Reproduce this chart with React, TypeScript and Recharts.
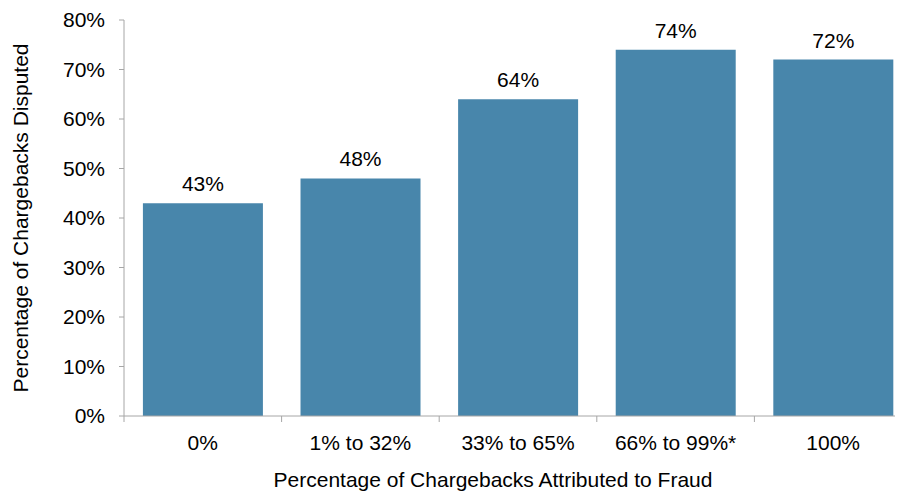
import { BarChart, Bar, XAxis, YAxis, LabelList, Label } from 'recharts'

const categories = ['0%', '1% to 32%', '33% to 65%', '66% to 99%*', '100%']
const disputed = [43, 48, 64, 74, 72]
const yTicks = [0, 10, 20, 30, 40, 50, 60, 70, 80]

const data = categories.map((name, i) => ({ name, disputed: disputed[i] }))

const FONT = '"Liberation Sans", Arial, sans-serif'
const AXIS = '#a6a6a6'
const BAR = '#4886ab'

// category labels at band centres, tick marks at band edges
const CategoryTick = (props: any) => {
  const { x, y, width, payload, index, visibleTicksCount } = props
  const half = payload?.offset || (width && visibleTicksCount ? width / visibleTicksCount / 2 : 0)
  const top = y - 19
  return (
    <g>
      <line x1={x - half} x2={x - half} y1={top} y2={top + 6} stroke={AXIS} />
      {index === visibleTicksCount - 1 && (
        <line x1={x + half} x2={x + half} y1={top} y2={top + 6} stroke={AXIS} />
      )}
      <text x={x} y={y + 15} textAnchor="middle" fill="#000" fontSize={21} fontFamily={FONT}>
        {payload.value}
      </text>
    </g>
  )
}

export default function App() {
  return (
    <div style={{ margin: '-8px 0 0 -8px', fontFamily: FONT }}>
      <BarChart
        width={920}
        height={491}
        data={data}
        margin={{ top: 20, right: 8, bottom: 0, left: 0 }}
        barCategoryGap="12%"
      >
        <XAxis
          dataKey="name"
          height={75}
          tickLine={false}
          axisLine={{ stroke: AXIS }}
          tickSize={5}
          tickMargin={14}
          tick={<CategoryTick />}
          interval={0}
        >
          <Label
            value="Percentage of Chargebacks Attributed to Fraud"
            position="insideBottom"
            offset={4}
            dx={-25}
            style={{ fill: '#000', fontSize: 21, fontFamily: FONT }}
          />
        </XAxis>
        <YAxis
          width={124}
          domain={[0, 80]}
          ticks={yTicks}
          tickFormatter={(v: number) => `${v}%`}
          axisLine={{ stroke: AXIS }}
          tickLine={{ stroke: AXIS }}
          tickSize={5}
          tickMargin={14}
          tick={{ fill: '#000', fontSize: 21, fontFamily: FONT }}
        >
          <Label
            value="Percentage of Chargebacks Disputed"
            angle={-90}
            position="insideLeft"
            offset={21}
            style={{ fill: '#000', fontSize: 21, fontFamily: FONT, textAnchor: 'middle' }}
          />
        </YAxis>
        <Bar dataKey="disputed" fill={BAR} isAnimationActive={false}>
          <LabelList
            dataKey="disputed"
            position="top"
            offset={12}
            formatter={(v: any) => `${v}%`}
            style={{ fill: '#000', fontSize: 21, fontFamily: FONT }}
          />
        </Bar>
      </BarChart>
    </div>
  )
}
